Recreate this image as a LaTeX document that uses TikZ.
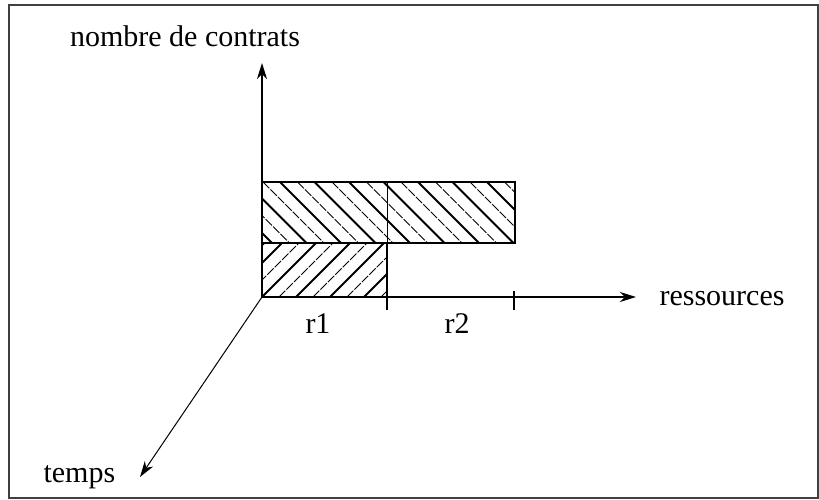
\documentclass[tikz,border=0pt]{standalone}
\usepackage{fontspec}
\setmainfont{Liberation Serif}
\usetikzlibrary{arrows.meta}
\begin{document}
\begin{tikzpicture}[x=1pt, y=-1pt, line width=1.1pt,
    every node/.style={font=\fontsize{30}{34}\selectfont, inner sep=0pt},
    axe/.style={-{Stealth[length=16pt, width=10pt, inset=5pt]}},
    epais/.style={line width=1.8pt},
    fin/.style={line width=0.8pt, dash pattern=on 9pt off 1.5pt}]
  \useasboundingbox (0,0) rectangle (819,500);
  % Cadre
  \draw[line width=1.6pt, black!75] (9,5) rectangle (818,498);
  % Axes
  \coordinate (o) at (262,297);
  \coordinate (ytip) at (262,63);
  \coordinate (xtip) at (636,297);
  \coordinate (ttip) at (140,477);
  \draw[axe] (o) -- (ytip);
  \draw[axe] (o) -- (xtip);
  \draw[axe, line width=1pt] (o) -- (ttip);
  % Hachures r2
  \begin{scope}
    \clip (262,182) rectangle (515,243);
    \foreach \c in {176.5,211,...,520}
      \draw[epais] (\c,182) -- ++(80,80);
    \foreach \c in {194,228.5,...,520}
      \draw[fin] (\c,182) -- ++(80,80);
  \end{scope}
  \draw (262,182) rectangle (515,243);
  \draw[line width=0.6pt] (387,182) -- (387,243);
  % Hachures r1
  \begin{scope}
    \clip (262,243) rectangle (387,297);
    \foreach \c in {194,228,...,400}
      \draw[epais] (\c,297) -- ++(70,-70);
    \foreach \c in {211,245,...,400}
      \draw[fin] (\c,297) -- ++(70,-70);
  \end{scope}
  \draw (262,243) rectangle (387,297);
  % Graduations
  \draw (387,243) -- (387,310);
  \draw (514,291) -- (514,310);
  % Etiquettes
  \node[anchor=base] (contrats) at (185,47) {nombre de contrats};
  \node[anchor=base west] (ressources) at (659,305) {ressources};
  \node[anchor=base] (r1) at (318,333) {r1};
  \node[anchor=base] (r2) at (457,333) {r2};
  \node[anchor=base west] (temps) at (43,482) {temps};
\end{tikzpicture}
\end{document}
